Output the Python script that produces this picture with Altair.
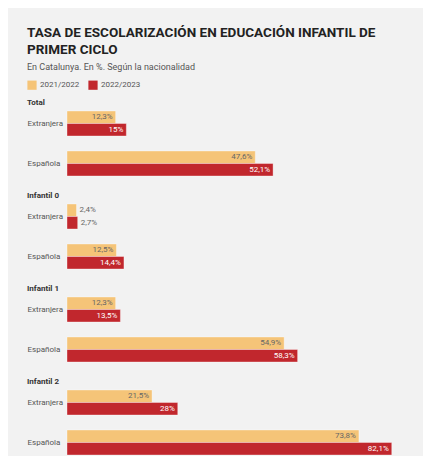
import altair as alt
import pandas as pd

groups = ["Total", "Infantil 0", "Infantil 1", "Infantil 2"]
nationalities = ["Extranjera", "Española"]
years = ["2021/2022", "2022/2023"]
v2122 = [12.3, 47.6, 2.4, 12.5, 12.3, 54.9, 21.5, 73.8]
v2223 = [15.0, 52.1, 2.7, 14.4, 13.5, 58.3, 28.0, 82.1]
colors = ["#f5c478", "#c1272d"]


def fmt(v):
    return f"{v:g}".replace(".", ",") + "%"


rows = []
i = 0
for g in groups:
    for n in nationalities:
        for y, vals in zip(years, [v2122, v2223]):
            rows.append({"group": g, "nat": n, "year": y, "value": vals[i], "label": fmt(vals[i])})
        i += 1
df = pd.DataFrame(rows)

FONT = "Roboto"


def panel(g, show_legend):
    base = alt.Chart(df[df.group == g]).encode(
        y=alt.Y(
            "nat:N",
            sort=nationalities,
            scale=alt.Scale(paddingInner=0.375, paddingOuter=0),
            axis=alt.Axis(
                title=None, ticks=False, domain=False, labelAlign="left",
                labelPadding=40, labelFontSize=8, labelColor="#555",
                labelFont=FONT, labelLimit=60,
            ),
        ),
        yOffset=alt.YOffset("year:N", sort=years, scale=alt.Scale(paddingInner=0, paddingOuter=0)),
        x=alt.X("value:Q", scale=alt.Scale(domain=[0, 90]), axis=None),
    )
    bars = base.mark_bar(stroke="white", strokeWidth=0.6, strokeOpacity=0.6).encode(
        color=alt.Color(
            "year:N",
            sort=years,
            scale=alt.Scale(domain=years, range=colors),
            legend=alt.Legend(
                title=None, orient="none", legendX=-40, legendY=-31,
                direction="horizontal", symbolType="square",
                symbolSize=85, symbolStrokeWidth=0, labelFontSize=8, labelColor="#555",
                labelFont=FONT, columnPadding=8, labelOffset=3,
            ) if show_legend else None,
        )
    )
    inside = base.transform_filter("datum.value >= 5").mark_text(
        align="right", baseline="middle", dx=-3, fontSize=8, font=FONT
    ).encode(
        text="label:N",
        color=alt.condition("datum.year == '2022/2023'", alt.value("white"), alt.value("#666")),
    )
    outside = base.transform_filter("datum.value < 5").mark_text(
        align="left", baseline="middle", dx=3, fontSize=8, font=FONT, color="#666"
    ).encode(text="label:N")
    return alt.layer(bars, inside, outside).properties(
        width=356, height=65,
        title=alt.TitleParams(g, anchor="start", fontSize=8, fontWeight="bold", font=FONT,
                              color="#333", offset=4),
    )


chart = alt.vconcat(
    *[panel(g, k == 0) for k, g in enumerate(groups)], spacing=14
).properties(
    title=alt.TitleParams(
        ["TASA DE ESCOLARIZACIÓN EN EDUCACIÓN INFANTIL DE", "PRIMER CICLO"],
        subtitle="En Catalunya. En %. Según la nacionalidad",
        anchor="start", fontSize=13.5, fontWeight="bold", font=FONT, color="#222",
        lineHeight=16.5, subtitleFont=FONT, subtitleFontSize=9, subtitleColor="#555",
        subtitlePadding=7, offset=8,
    ),
    background="#f2f2f2",
    padding={"left": 19, "top": 18, "right": 0, "bottom": 0},
).configure_view(stroke=None)

chart.save("out.html", embed_options={"renderer": "svg", "actions": False})
